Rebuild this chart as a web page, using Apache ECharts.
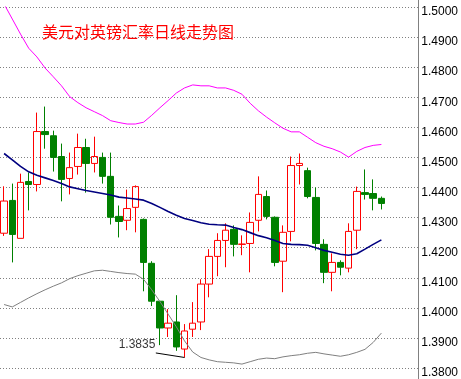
<!DOCTYPE html>
<html><head><meta charset="utf-8">
<script src="https://cdn.jsdelivr.net/npm/echarts@6/dist/echarts.min.js"></script>
<style>html,body{margin:0;padding:0;background:#fff}#c{width:461px;height:379px}</style>
</head><body><div id="c"></div>
<script>
const titleText = '美元对英镑汇率日线走势图';
const days = ['1','2','3','4','5','6','7','8','9','10','11','12','13','14','15','16','17','18','19','20',
  '21','22','23','24','25','26','27','28','29','30','31','32','33','34','35','36','37','38','39','40',
  '41','42','43','44','45','46','47','48','49','50','51'];
const opens = [1.4248,1.4357,1.4231,1.4420,1.4410,1.4586,1.4572,1.4503,1.4430,1.4470,
  1.4533,1.4480,1.4500,1.4437,1.4304,1.4291,1.4334,1.4294,1.4148,1.4022,
  1.3933,1.3953,1.3863,1.3929,1.3953,1.4079,1.4171,1.4224,1.4261,1.4211,
  1.4214,1.4291,1.4370,1.4301,1.4155,1.4254,1.4473,1.4456,1.4367,1.4211,
  1.4118,1.4151,1.4132,1.4258,1.4383,1.4380,1.4364];
const closes = [1.4355,1.4244,1.4417,1.4410,1.4586,1.4576,1.4500,1.4427,1.4466,1.4533,
  1.4480,1.4503,1.4437,1.4301,1.4287,1.4330,1.4403,1.4151,1.4022,1.3933,
  1.3949,1.3870,1.3923,1.3949,1.4079,1.4171,1.4224,1.4258,1.4211,1.4212,
  1.4284,1.4377,1.4304,1.4151,1.4251,1.4473,1.4480,1.4370,1.4214,1.4118,
  1.4151,1.4135,1.4254,1.4387,1.4377,1.4364,1.4347];
const lows = [1.4239,1.4151,1.4231,1.4324,1.4387,1.4529,1.4453,1.4354,1.4377,1.4443,
  1.4383,1.4450,1.4413,1.4277,1.4234,1.4258,1.4251,1.4055,1.4006,1.3876,
  1.3903,1.3857,1.3835,1.3903,1.3926,1.4035,1.4105,1.4135,1.4171,1.4175,
  1.4118,1.4254,1.4294,1.4138,1.4052,1.4221,1.4410,1.4364,1.4191,1.4082,
  1.4055,1.4108,1.4118,1.4195,1.4360,1.4324,1.4327];
const highs = [1.4404,1.4413,1.4446,1.4450,1.4649,1.4669,1.4589,1.4546,1.4516,1.4579,
  1.4562,1.4569,1.4516,1.4516,1.4340,1.4393,1.4407,1.4297,1.4155,1.4022,
  1.3996,1.4042,1.3946,1.4019,1.4095,1.4195,1.4248,1.4281,1.4274,1.4241,
  1.4317,1.4437,1.4390,1.4304,1.4274,1.4503,1.4513,1.4466,1.4400,1.4228,
  1.4181,1.4158,1.4281,1.4403,1.4460,1.4427,1.4370];
const upperBand = [1.5010,1.4960,1.4910,1.4863,1.4834,1.4797,1.4768,1.4738,1.4702,1.4682,
  1.4665,1.4652,1.4639,1.4622,1.4616,1.4611,1.4611,1.4617,1.4640,1.4665,
  1.4689,1.4714,1.4731,1.4741,1.4738,1.4738,1.4731,1.4731,1.4723,1.4710,
  1.4680,1.4655,1.4634,1.4615,1.4597,1.4585,1.4585,1.4567,1.4549,1.4537,
  1.4529,1.4518,1.4501,1.4520,1.4533,1.4540,1.4543];
const middleBand = [1.4513,1.4492,1.4470,1.4452,1.4441,1.4432,1.4423,1.4413,1.4402,1.4396,
  1.4390,1.4385,1.4380,1.4375,1.4368,1.4365,1.4362,1.4358,1.4347,1.4334,
  1.4320,1.4308,1.4297,1.4290,1.4283,1.4278,1.4276,1.4275,1.4267,1.4260,
  1.4250,1.4240,1.4233,1.4224,1.4214,1.4211,1.4210,1.4208,1.4200,1.4191,
  1.4185,1.4178,1.4175,1.4180,1.4195,1.4211,1.4226];
const lowerBand = [1.4011,1.4003,1.4018,1.4033,1.4047,1.4060,1.4072,1.4083,1.4097,1.4107,
  1.4115,1.4123,1.4125,1.4121,1.4117,1.4114,1.4112,1.4095,1.4060,1.4021,
  1.3979,1.3937,1.3890,1.3853,1.3835,1.3827,1.3821,1.3819,1.3817,1.3813,
  1.3821,1.3829,1.3833,1.3831,1.3837,1.3841,1.3844,1.3849,1.3852,1.3847,
  1.3843,1.3839,1.3844,1.3852,1.3862,1.3885,1.3916];
const lowLabel = '1.3835';
const annotX = [18.5, 22];
const annotY = [1.3850, 1.3835];

const chart = echarts.init(document.getElementById('c'), null, {renderer: 'canvas'});
const candle = opens.map((o, i) => [o, closes[i], lows[i], highs[i]]);
const option = {
  animation: false,
  backgroundColor: '#fff',
  title: {text: titleText, left: 37, top: 19,
    textStyle: {color: '#ff0000', fontSize: 16, fontWeight: 'normal', fontFamily: '"Noto Sans CJK SC", sans-serif'}},
  grid: [
    {left: -3, right: 42.5, top: 7, bottom: 10},
    {left: -3, right: 42.5, top: 0, bottom: 0}
  ],
  xAxis: [
    {type: 'category', data: days, gridIndex: 0, boundaryGap: true, show: false},
    {type: 'value', gridIndex: 0, min: -0.5, max: 50.5, show: false},
    {type: 'value', gridIndex: 1, min: 0, max: 1, show: false}
  ],
  yAxis: [
    {type: 'value', gridIndex: 0, position: 'right', min: 1.38, max: 1.5, interval: 0.01,
      axisLine: {show: false, onZero: false}, axisTick: {show: false},
      splitLine: {show: true, lineStyle: {color: '#808080', type: [1, 2], width: 1}},
      axisLabel: {color: '#000', fontSize: 12, fontFamily: '"Liberation Sans", Arial, sans-serif',
        margin: 3, verticalAlign: 'top', lineHeight: 10, formatter: v => v.toFixed(4)}},
    {type: 'value', gridIndex: 1, position: 'right', min: 0, max: 1,
      axisLine: {show: true, onZero: false, lineStyle: {color: '#808080', width: 1}},
      axisTick: {show: false}, axisLabel: {show: false}, splitLine: {show: false}}
  ],
  series: [
    {type: 'candlestick', xAxisIndex: 0, yAxisIndex: 0, data: candle, barWidth: 7, silent: true,
      itemStyle: {color: 'rgba(255,255,255,0)', color0: '#008000', borderColor: '#ff0000', borderColor0: '#008000', borderWidth: 1}},
    {type: 'line', xAxisIndex: 0, yAxisIndex: 0, data: upperBand, symbol: 'none', silent: true, z: 3,
      lineStyle: {color: '#ff00ff', width: 1}},
    {type: 'line', xAxisIndex: 0, yAxisIndex: 0, data: middleBand, symbol: 'none', silent: true, z: 3,
      lineStyle: {color: '#000080', width: 1.6}},
    {type: 'line', xAxisIndex: 0, yAxisIndex: 0, data: lowerBand, symbol: 'none', silent: true, z: 3,
      lineStyle: {color: '#808080', width: 1}},
    {type: 'line', xAxisIndex: 1, yAxisIndex: 0, data: annotX.map((x, i) => [x, annotY[i]]), symbol: 'none', silent: true, z: 4,
      lineStyle: {color: '#000', width: 1}},
    {type: 'scatter', xAxisIndex: 1, yAxisIndex: 0, data: [[annotX[0], annotY[0]]], symbolSize: 1, silent: true, z: 4,
      itemStyle: {color: 'rgba(0,0,0,0)'},
      label: {show: true, position: 'left', distance: 0, offset: [0, -8], formatter: lowLabel,
        color: '#000', fontSize: 12, fontFamily: '"Liberation Sans", Arial, sans-serif'}}
  ]
};
chart.setOption(option);
</script>
</body></html>
